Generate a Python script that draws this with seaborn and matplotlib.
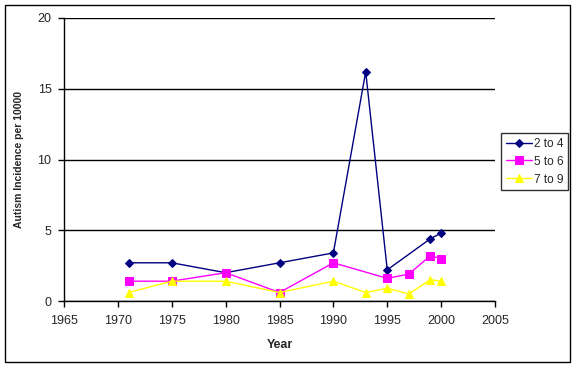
import pandas as pd
import seaborn as sns
import numpy as np
import matplotlib.pyplot as plt
from matplotlib.patches import Rectangle

# values
years_24 = [1971, 1975, 1980, 1985, 1990, 1993, 1995, 1999, 2000]
rate_24 = [2.7, 2.7, 2.0, 2.7, 3.4, 16.2, 2.2, 4.4, 4.8]

years_56 = [1971, 1975, 1980, 1985, 1990, 1995, 1997, 1999, 2000]
rate_56 = [1.4, 1.4, 2.0, 0.6, 2.7, 1.6, 1.9, 3.2, 3.0]

years_79 = [1971, 1975, 1980, 1985, 1990, 1993, 1995, 1997, 1999, 2000]
rate_79 = [0.6, 1.4, 1.4, 0.6, 1.4, 0.6, 0.9, 0.5, 1.5, 1.4]

groups = ['2 to 4', '5 to 6', '7 to 9']

data = pd.concat([
    pd.DataFrame({'Year': years_24, 'rate': rate_24, 'Age': groups[0]}),
    pd.DataFrame({'Year': years_56, 'rate': rate_56, 'Age': groups[1]}),
    pd.DataFrame({'Year': years_79, 'rate': rate_79, 'Age': groups[2]}),
])

sns.set_style('white')
plt.rcParams['font.family'] = ['Liberation Sans', 'DejaVu Sans']

fig = plt.figure(figsize=(5.76, 3.68), dpi=100)
ax = fig.add_axes([64 / 576, 1 - 301 / 368, (495 - 64) / 576, (301 - 18) / 368])

pal = {'2 to 4': '#000080', '5 to 6': '#FF00FF', '7 to 9': '#FFFF00'}
mk = {'2 to 4': 'D', '5 to 6': 's', '7 to 9': '^'}
sizes = {'2 to 4': 4, '5 to 6': 5.5, '7 to 9': 6}

for g in groups:
    d = data[data.Age == g]
    sns.lineplot(x='Year', y='rate', data=d, color=pal[g], marker=mk[g],
                 markersize=sizes[g], markeredgecolor=pal[g], linewidth=1,
                 label=g, ax=ax, estimator=None)

ax.set_xlim(1965, 2005)
ax.set_ylim(0, 20)
ax.set_xticks(range(1965, 2006, 5))
ax.set_yticks(range(0, 21, 5))
ax.yaxis.grid(True, color='black', linewidth=1)
ax.xaxis.grid(False)
for s in ['top', 'right']:
    ax.spines[s].set_visible(False)
for s in ['left', 'bottom']:
    ax.spines[s].set_color('black')
    ax.spines[s].set_linewidth(1)
ax.tick_params(axis='both', direction='out', length=4, width=1, color='black',
               labelsize=9, bottom=True, left=True)
ax.tick_params(axis='x', pad=6)
ax.tick_params(axis='y', pad=5)
ax.set_xlabel('Year', fontsize=9, fontweight='bold', labelpad=9)
ax.set_ylabel('Autism Incidence per 10000', fontsize=7.5, fontweight='bold', labelpad=10)

leg = ax.legend(loc='upper left', bbox_to_anchor=(501 / 576, 1 - 133 / 368),
                bbox_transform=fig.transFigure, frameon=True, fancybox=False,
                fontsize=8.5, handlelength=2.2, borderpad=0.4, labelspacing=0.5,
                handletextpad=0.2, borderaxespad=0)
leg.get_frame().set_edgecolor('black')
leg.get_frame().set_linewidth(1)

# chart border
fig.patches.append(Rectangle((5 / 576, 1 - 362 / 368), 565 / 576, 357 / 368,
                             transform=fig.transFigure, fill=False,
                             edgecolor='black', linewidth=1))

fig.savefig('out.png', dpi=100)
